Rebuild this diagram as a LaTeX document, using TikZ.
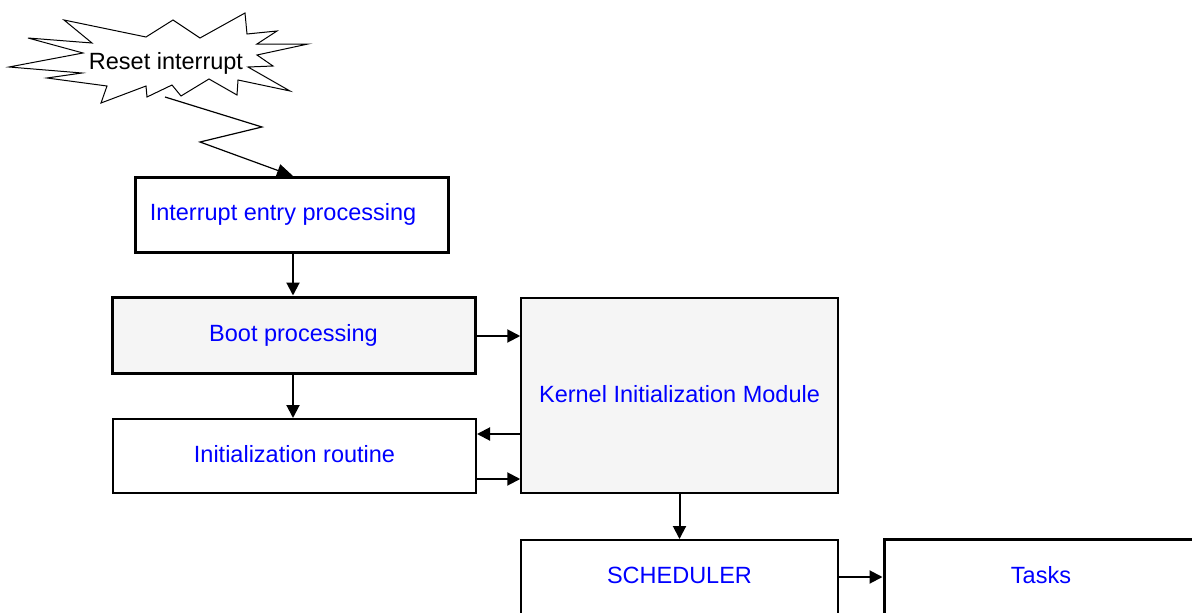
\documentclass[tikz,border=0pt]{standalone}
\usepackage{fontspec}
\setmainfont{Liberation Sans}
\usetikzlibrary{arrows.meta}
\definecolor{boxgray}{RGB}{245,245,245}
\definecolor{txtblue}{RGB}{0,0,255}
\begin{document}
\begin{tikzpicture}[x=1pt,y=-1pt,
  lbl/.style={font=\fontsize{23.5}{28}\selectfont, text=txtblue},
  blk/.style={draw=black, rectangle, inner sep=0pt, anchor=center},
  arr/.style={-{Triangle[length=13pt,width=13pt]}, line width=2pt},
]
\useasboundingbox (0,0) rectangle (1192,613);
\clip (0,0) rectangle (1192,613);
\fill[white] (0,0) rectangle (1192,613);

% starburst
\draw[line width=1pt, fill=white, line join=miter]
  (64,20) -- (92,43) -- (28,38) -- (83,53) -- (9,67) -- (82,73) -- (47,78)
  -- (107,86) -- (101,103) -- (146,86) -- (147,97) -- (172,85) -- (181,96)
  -- (209,79) -- (237,95) -- (238,80) -- (290,91) -- (248,67) -- (273,66)
  -- (257,55) -- (308,44) -- (257,44) -- (277,31) -- (247,34) -- (245,13)
  -- (200,38) -- (173,20) -- (146,37) -- cycle;
\node[font=\fontsize{23.5}{28}\selectfont, text=black] (reset) at (166,63) {Reset interrupt};

% boxes
\node[blk, line width=3pt, minimum width=313pt, minimum height=75pt] (int) at (291.5,214.5) {};
\node[lbl] (intt) at (283,214) {Interrupt entry processing};
\node[blk, line width=3pt, fill=boxgray, minimum width=363pt, minimum height=76pt, lbl] (boot) at (293.5,335) {Boot processing};
\node[blk, line width=2pt, minimum width=363pt, minimum height=74pt, lbl, text depth=4pt] (init) at (294.5,456) {Initialization routine};
\node[blk, line width=1.5pt, fill=boxgray, minimum width=317pt, minimum height=195pt, lbl, text depth=4pt] (kern) at (679.5,395.5) {Kernel Initialization Module};
\node[blk, line width=2pt, minimum width=317pt, minimum height=76pt, lbl, text depth=6pt] (sched) at (679.5,578) {SCHEDULER};
\node[blk, line width=3pt, minimum width=314pt, minimum height=76pt, lbl, text depth=4pt] (tasks) at (1041,577) {Tasks};

% lightning
\coordinate (lstart) at (165,97);
\coordinate (lk1) at (262,127);
\coordinate (lk2) at (200,142);
\coordinate (ltip) at (293,176);
\draw[-{Triangle[length=16pt,width=13pt]}, line width=1.2pt, line join=miter]
  (lstart) -- (lk1) -- (lk2) -- (ltip);

% connectors
\draw[arr] (int.south -| 293,0) -- (boot.north -| 293,0);
\draw[arr] (boot.south -| 293,0) -- (init.north -| 293,0);
\draw[arr] (boot.east |- 0,336) -- (kern.west |- 0,336);
\draw[arr] (kern.west |- 0,434) -- (init.east |- 0,434);
\draw[arr] (init.east |- 0,479) -- (kern.west |- 0,479);
\draw[arr] (kern.south) -- (sched.north);
\draw[arr] (sched.east |- 0,577) -- (tasks.west |- 0,577);
\end{tikzpicture}
\end{document}
